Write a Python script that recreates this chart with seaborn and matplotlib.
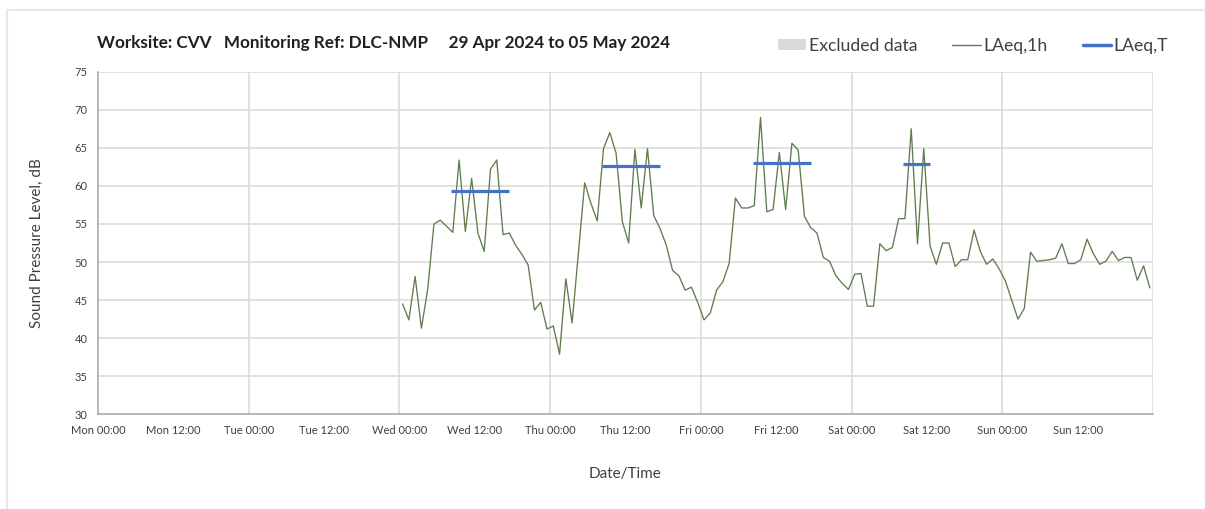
import numpy as np
import pandas as pd
import matplotlib
matplotlib.use("Agg")
import matplotlib.pyplot as plt
import matplotlib.dates as mdates
from matplotlib.patches import Patch, Rectangle
from matplotlib.lines import Line2D
import seaborn as sns

# hourly LAeq,1h values, Wed 01 May 2024 00:00 -> Sun 05 May 2024 23:00
start = "2024-05-01 00:00"
laeq_1h = [
    44.5, 42.4, 48.1, 41.3, 46.4, 55.0, 55.5, 54.7, 53.9, 63.4, 54.0, 61.0,
    53.8, 51.4, 62.2, 63.4, 53.6, 53.8, 52.2, 51.0, 49.6, 43.7, 44.7, 41.2,
    41.6, 37.9, 47.8, 42.0, 51.2, 60.4, 57.7, 55.4, 64.9, 67.0, 64.3, 55.3,
    52.5, 64.8, 57.1, 64.9, 56.1, 54.4, 52.2, 48.9, 48.2, 46.3, 46.7, 44.7,
    42.4, 43.3, 46.3, 47.4, 49.8, 58.4, 57.1, 57.1, 57.4, 69.0, 56.6, 56.9,
    64.4, 56.9, 65.6, 64.7, 56.0, 54.5, 53.8, 50.6, 50.1, 48.2, 47.2, 46.4,
    48.4, 48.5, 44.2, 44.2, 52.4, 51.5, 51.9, 55.7, 55.7, 67.5, 52.4, 64.9,
    52.1, 49.7, 52.5, 52.5, 49.4, 50.3, 50.3, 54.2, 51.4, 49.7, 50.4, 49.1,
    47.5, 45.0, 42.5, 43.9, 51.3, 50.1, 50.2, 50.3, 50.5, 52.4, 49.8, 49.8,
    50.3, 53.0, 51.1, 49.7, 50.1, 51.4, 50.2, 50.6, 50.6, 47.6, 49.5, 46.6,
]

# LAeq,T periods
period_start = ["2024-05-01 08:15", "2024-05-02 08:15", "2024-05-03 08:15", "2024-05-04 08:15"]
period_end = ["2024-05-01 17:30", "2024-05-02 17:30", "2024-05-03 17:30", "2024-05-04 12:30"]
laeq_t = [59.3, 62.6, 63.0, 62.9]

x_start = pd.Timestamp("2024-04-29 00:00")
x_end = pd.Timestamp("2024-05-06 00:00")

green = "#5e7d4f"
blue = "#4472c4"
grid_c = "#d9d9d9"
text_c = "#404040"

hourly = pd.DataFrame({
    "time": pd.date_range(start, periods=len(laeq_1h), freq="h") + pd.Timedelta(minutes=30),
    "level": laeq_1h,
})
periods = pd.DataFrame({
    "time": pd.to_datetime(period_start + period_end),
    "level": laeq_t + laeq_t,
    "day": list(range(len(laeq_t))) * 2,
})

sns.set_style("white")
plt.rcParams["font.family"] = ["Lato", "DejaVu Sans"]

fig = plt.figure(figsize=(12.05, 5.09), dpi=100)
ax = fig.add_axes([98 / 1205, 1 - 414.3 / 509, 1055 / 1205, (414.3 - 71.7) / 509])

sns.lineplot(data=hourly, x="time", y="level", color=green, linewidth=0.95, ax=ax)
sns.lineplot(data=periods, x="time", y="level", units="day", estimator=None,
             color=blue, linewidth=2.3, solid_capstyle="butt", ax=ax)

ax.set_xlim(x_start, x_end)
ax.set_ylim(30, 75)
ax.set_yticks(np.arange(30, 76, 5))
ax.xaxis.set_major_locator(mdates.HourLocator(byhour=[0, 12]))
end_num = mdates.date2num(x_end)
ax.xaxis.set_major_formatter(plt.FuncFormatter(
    lambda v, pos: "" if v >= end_num - 1e-6 else mdates.num2date(v).strftime("%a %H:%M")))

# gridlines: every 5 dB, and at midnight only
for v in np.arange(35, 76, 5):
    ax.axhline(v, color=grid_c, lw=1.1, zorder=0)
for d in pd.date_range(x_start, x_end, freq="D")[1:]:
    ax.axvline(d, color=grid_c, lw=1.1, zorder=0)

for s in ["top", "right"]:
    ax.spines[s].set_visible(False)
for s in ["left", "bottom"]:
    ax.spines[s].set_color("#a6a6a6")
    ax.spines[s].set_linewidth(1.1)

ax.tick_params(axis="both", direction="out", length=4, width=0.9, color="#a6a6a6",
               labelsize=8, labelcolor=text_c)
ax.tick_params(axis="x", pad=4)
ax.set_xlabel("Date/Time", fontsize=11, color=text_c, labelpad=22)
ax.set_ylabel("Sound Pressure Level, dB", fontsize=11, color=text_c, labelpad=22)

# header and legend
fig.text(97 / 1205, 1 - 43 / 509, "Worksite: CVV   Monitoring Ref: DLC-NMP     29 Apr 2024 to 05 May 2024",
         fontsize=12.3, fontweight="bold", color="#202020", va="center")

handles = [
    Patch(facecolor="#d9d9d9", edgecolor="none"),
    Line2D([0], [0], color=green, lw=1),
    Line2D([0], [0], color=blue, lw=2.5),
]
fig.legend(handles, ["Excluded data", "LAeq,1h", "LAeq,T"], ncol=3, frameon=False,
           loc="center right", bbox_to_anchor=(1184 / 1205, 1 - 46 / 509),
           fontsize=12.7, handlelength=1.6, handleheight=0.55, handletextpad=0.15,
           columnspacing=2.0, labelcolor=text_c)

# outer chart border
fig.patches.append(Rectangle((7 / 1205, -0.05), 1.2, 1 - 10 / 509 + 0.05, transform=fig.transFigure,
                             facecolor="none", edgecolor="#e8e8e8", lw=1.6))

fig.savefig("out.png", dpi=100)
